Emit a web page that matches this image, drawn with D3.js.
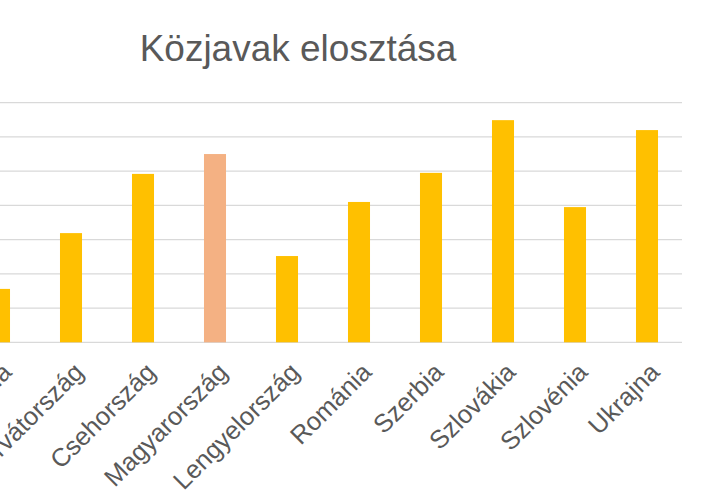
<!DOCTYPE html>
<html><head><meta charset="utf-8">
<script src="https://cdn.jsdelivr.net/npm/d3@7"></script>
<style>body{margin:0;background:#fff;}svg{display:block;font-family:"Liberation Sans",Arial,sans-serif;}</style>
</head><body>
<script>
const title = "Közjavak elosztása";
const categories = ["Ausztria","Horvátország","Csehország","Magyarország","Lengyelország","Románia","Szerbia","Szlovákia","Szlovénia","Ukrajna"];
const values = [15.6, 31.9, 49.2, 55.0, 25.2, 41.0, 49.5, 64.9, 39.5, 62.0];
const highlight = ["Magyarország"];
const gridTicks = [0,10,20,30,40,50,60,70];

const W = 705, H = 501;
const svg = d3.select("body").append("svg").attr("width", W).attr("height", H);

const x = d3.scaleBand().domain(categories).range([-37, 683]).paddingInner(0.694).paddingOuter(0.347);
const y = d3.scaleLinear().domain([0,70]).range([342.3, 102.7]);

svg.append("g").selectAll("line").data(gridTicks).join("line")
  .attr("x1", 0).attr("x2", 682)
  .attr("y1", d => y(d)).attr("y2", d => y(d))
  .attr("stroke", "#d9d9d9").attr("stroke-width", 1.3);

svg.append("g").selectAll("rect").data(categories).join("rect")
  .attr("x", d => x(d)).attr("width", x.bandwidth())
  .attr("y", (d,i) => y(values[i])).attr("height", (d,i) => y(0) - y(values[i]))
  .attr("fill", d => highlight.includes(d) ? "#f4b183" : "#ffc000");

svg.append("g").selectAll("text").data(categories).join("text")
  .attr("transform", d => `translate(${x(d) + x.bandwidth()/2 + 14},${y(0) + 31.5}) rotate(-45)`)
  .attr("text-anchor", "end")
  .attr("font-size", 25.5).attr("fill", "#595959")
  .text(d => d);

svg.append("text").attr("x", 298).attr("y", 61).attr("text-anchor", "middle")
  .attr("font-size", 37).attr("fill", "#595959").text(title);
</script>
</body></html>
